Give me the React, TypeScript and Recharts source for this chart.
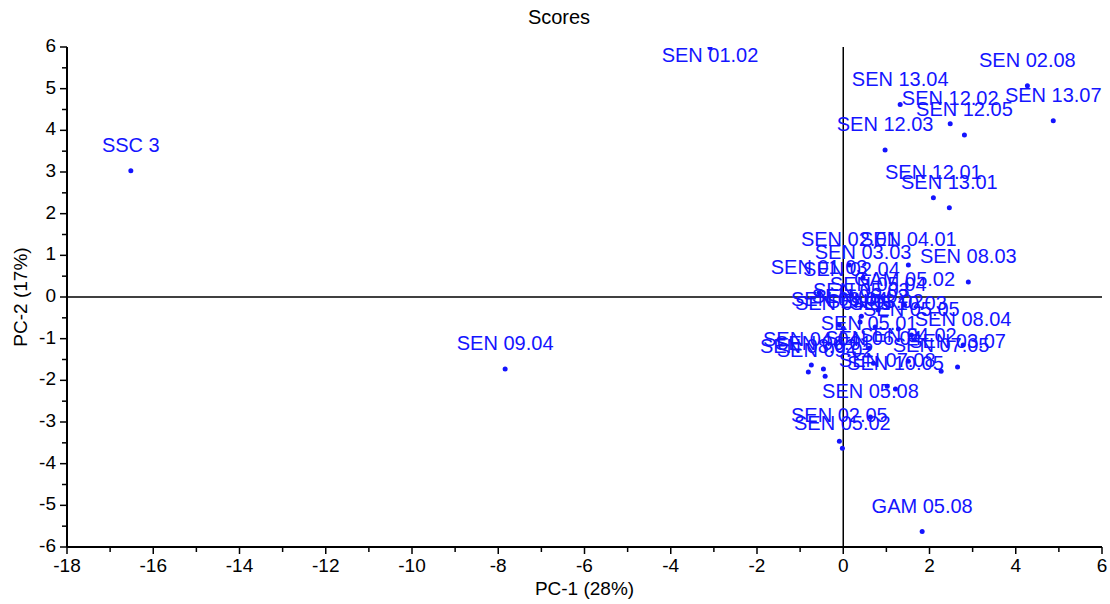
import React from 'react';
import { ScatterChart, Scatter, XAxis, YAxis, ReferenceLine } from 'recharts';

// sample labels with their PC-1 / PC-2 scores
const sampleNames = [
  'SSC 3', 'SEN 09.04', 'SEN 01.02', 'SEN 02.08', 'SEN 13.07', 'SEN 13.04',
  'SEN 12.02', 'SEN 12.05', 'SEN 12.03', 'SEN 12.01', 'SEN 13.01', 'SEN 04.01',
  'SEN 02.01', 'SEN 03.03', 'SEN 08.03', 'SEN 01.03', 'SEN 02.04', 'GAM 05.02',
  'SEN 05.04', 'SEN 05.03', 'SEN 03.04', 'SEN 06.02', 'SEN 03.02', 'SEN 10.03',
  'SEN 04.05', 'SEN 05.05', 'SEN 08.04', 'SEN 05.01', 'SEN 04.02', 'SEN 06.04',
  'SEN 03.07', 'SEN 07.05', 'SEN 04.04', 'SEN 08.02', 'SEN 06.01', 'SEN 09.02',
  'SEN 07.08', 'SEN 10.05', 'SEN 05.08', 'SEN 02.05', 'SEN 05.02', 'GAM 05.08',
];
const pc1 = [
  -16.52, -7.84, -3.09, 4.27, 4.87, 1.32,
  2.48, 2.81, 0.97, 2.09, 2.46, 1.51,
  0.14, 0.46, 2.9, -0.56, 0.19, 1.42,
  0.81, 0.42, -0.09, 0.39, 0.74, 1.28,
  0.0, 1.58, 2.78, 0.6, 1.51, 0.7,
  2.65, 2.27, -0.74, -0.81, -0.46, -0.42,
  1.02, 1.21, 0.63, -0.09, -0.02, 1.83,
];
const pc2 = [
  3.03, -1.73, 5.99, 5.07, 4.23, 4.62,
  4.16, 3.89, 3.53, 2.38, 2.14, 0.77,
  0.77, 0.46, 0.36, 0.1, 0.05, -0.19,
  -0.31, -0.46, -0.67, -0.6, -0.72, -0.77,
  -0.75, -0.91, -1.15, -1.23, -1.54, -1.59,
  -1.68, -1.78, -1.63, -1.8, -1.73, -1.9,
  -2.14, -2.21, -2.88, -3.46, -3.63, -5.63,
];

const xTicks = [-18, -17, -16, -15, -14, -13, -12, -11, -10, -9, -8, -7, -6, -5, -4, -3, -2, -1, 0, 1, 2, 3, 4, 5, 6];
const yTicks = [-6, -5.5, -5, -4.5, -4, -3.5, -3, -2.5, -2, -1.5, -1, -0.5, 0, 0.5, 1, 1.5, 2, 2.5, 3, 3.5, 4, 4.5, 5, 5.5, 6];

const data = sampleNames.map((name, i) => ({ name, x: pc1[i], y: pc2[i] }));

const BLUE = '#1414ff';
const FONT = "'Liberation Sans', Arial, sans-serif";
const PLOT_TOP = 47;

const XTick = ({ x, y, payload }: any) => {
  const v = payload.value;
  const major = v % 2 === 0;
  return (
    <g>
      <line x1={x} x2={x} y1={y} y2={y + (major ? 7 : 5)} stroke="#000" strokeWidth={1.5} />
      {major && (
        <text x={x} y={y + 25} textAnchor="middle" fontSize={19} fontFamily={FONT} fill="#000">
          {v}
        </text>
      )}
    </g>
  );
};

const YTick = ({ x, y, payload }: any) => {
  const v = payload.value;
  const major = Number.isInteger(v);
  return (
    <g>
      <line x1={x} x2={x - (major ? 7 : 5)} y1={y} y2={y} stroke="#000" strokeWidth={1.5} />
      {major && (
        <text x={x - 11} y={y} textAnchor="end" dominantBaseline="middle" fontSize={19}
          fontFamily={FONT} fill="#000">
          {v}
        </text>
      )}
    </g>
  );
};

const LabelledDot = ({ cx, cy, payload }: any) => {
  // labels sit above their point, except when that would leave the plot
  const ty = cy - 30 < PLOT_TOP ? cy + 9 : cy - 24;
  return (
    <g>
      <circle cx={cx} cy={cy} r={2.5} fill={BLUE} />
      <text x={cx} y={ty} textAnchor="middle" dominantBaseline="middle" fontSize={20}
        fontFamily={FONT} fill={BLUE}>
        {payload.name}
      </text>
    </g>
  );
};

export default function App() {
  return (
    <div style={{ position: 'absolute', left: 0, top: 0, width: 1110, height: 604, background: '#fff' }}>
      <div style={{ position: 'absolute', left: 459, width: 200, top: 6, textAlign: 'center',
        fontFamily: FONT, fontSize: 20, color: '#000' }}>
        Scores
      </div>
      <ScatterChart width={1110} height={604} margin={{ top: PLOT_TOP, right: 8, bottom: 7, left: 7 }}>
        <XAxis
          type="number"
          dataKey="x"
          domain={[-18, 6]}
          ticks={xTicks}
          interval={0}
          tick={<XTick />}
          tickLine={false}
          tickSize={0}
          tickMargin={0}
          height={50}
          axisLine={{ stroke: '#000', strokeWidth: 2 }}
          allowDataOverflow
        />
        <YAxis
          type="number"
          dataKey="y"
          domain={[-6, 6]}
          ticks={yTicks}
          interval={0}
          tick={<YTick />}
          tickLine={false}
          tickSize={0}
          tickMargin={0}
          width={60}
          axisLine={{ stroke: '#000', strokeWidth: 2 }}
          allowDataOverflow
        />
        <ReferenceLine x={0} stroke="#000" strokeWidth={1.5} />
        <ReferenceLine y={0} stroke="#000" strokeWidth={1.5} />
        <Scatter data={data} shape={<LabelledDot />} isAnimationActive={false} />
      </ScatterChart>
      <div style={{ position: 'absolute', left: 67, width: 1035, top: 578, textAlign: 'center',
        fontFamily: FONT, fontSize: 19, color: '#000' }}>
        PC-1 (28%)
      </div>
      <div style={{ position: 'absolute', left: 21, top: 297, transform: 'translate(-50%, -50%) rotate(-90deg)',
        whiteSpace: 'nowrap', fontFamily: FONT, fontSize: 19, color: '#000' }}>
        PC-2 (17%)
      </div>
    </div>
  );
}
